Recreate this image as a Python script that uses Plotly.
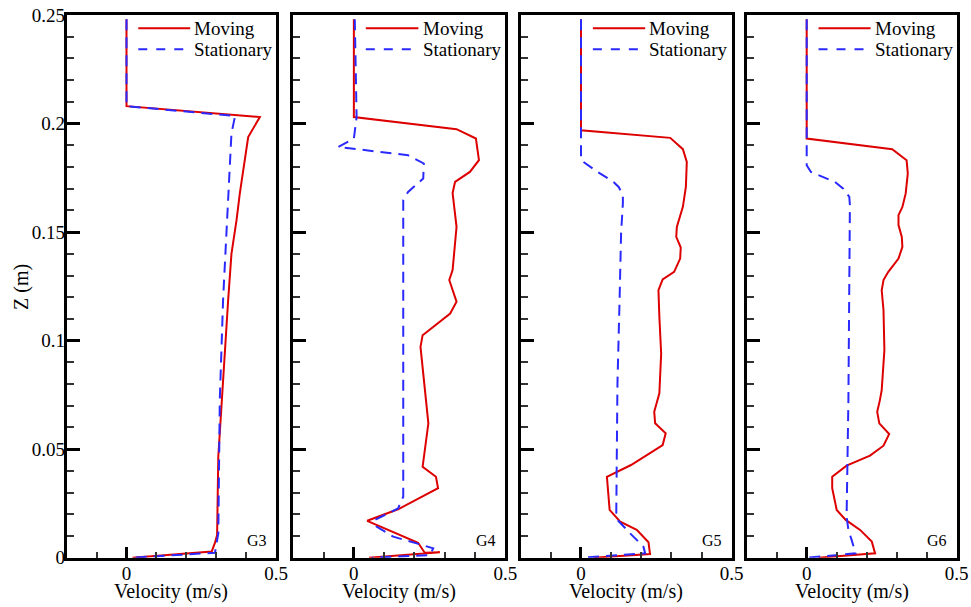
import plotly.graph_objects as go

# Vertical velocity profiles at four gauges (G3-G6): moving vs stationary case
gauges = ["G3", "G4", "G5", "G6"]

g3_moving_z = [0.248, 0.208, 0.203, 0.1938, 0.1678, 0.1555, 0.140, 0.1187, 0.0465, 0.0104, 0.0069, 0.0028, 0.0]
g3_moving_v = [0.0, 0.0, 0.446, 0.407, 0.379, 0.368, 0.351, 0.340, 0.307, 0.303, 0.296, 0.285, 0.02]
g3_stat_z = [0.248, 0.208, 0.2035, 0.1954, 0.1187, 0.0726, 0.0112, 0.0023, 0.0]
g3_stat_v = [0.0, 0.0, 0.363, 0.351, 0.323, 0.312, 0.307, 0.296, 0.02]

g4_moving_z = [0.248, 0.203, 0.1974, 0.1931, 0.1831, 0.1777, 0.1731, 0.168, 0.1524, 0.1325, 0.1279,
               0.1179, 0.1125, 0.1025, 0.0971, 0.0619, 0.0419, 0.0373, 0.032, 0.0223, 0.017, 0.0069,
               0.0023, 0.0025, 0.0]
g4_moving_v = [0.0, 0.0, 0.339, 0.403, 0.413, 0.383, 0.334, 0.326, 0.339, 0.326, 0.315,
               0.339, 0.318, 0.227, 0.220, 0.246, 0.227, 0.271, 0.278, 0.146, 0.044, 0.212,
               0.234, 0.284, 0.05]
g4_stat_z = [0.248, 0.203, 0.193, 0.1892, 0.1854, 0.1816, 0.1747, 0.1685, 0.1647, 0.0281, 0.0227,
             0.0174, 0.0143, 0.0097, 0.0066, 0.0043, 0.0012, 0.0]
g4_stat_v = [0.003, 0.009, 0.0, -0.052, 0.179, 0.231, 0.229, 0.179, 0.163, 0.163, 0.146,
             0.069, 0.075, 0.130, 0.207, 0.262, 0.251, 0.06]

g5_moving_z = [0.248, 0.1969, 0.1934, 0.1882, 0.1823, 0.1708, 0.1616, 0.157, 0.1524, 0.1478, 0.1429,
               0.1378, 0.1317, 0.1282, 0.1232, 0.111, 0.0941, 0.0757, 0.0672, 0.0619, 0.0573, 0.0519,
               0.0427, 0.0373, 0.022, 0.0166, 0.0128, 0.0071, 0.0017, 0.0]
g5_moving_v = [0.0, 0.0, 0.296, 0.338, 0.351, 0.348, 0.338, 0.329, 0.318, 0.316, 0.331,
               0.329, 0.309, 0.271, 0.257, 0.26, 0.266, 0.26, 0.243, 0.246, 0.281, 0.271,
               0.166, 0.086, 0.095, 0.130, 0.185, 0.224, 0.229, 0.042]
g5_stat_z = [0.248, 0.1831, 0.1777, 0.1731, 0.1708, 0.167, 0.1632, 0.1494, 0.1187, 0.0803, 0.0189,
             0.0174, 0.0112, 0.0051, 0.002, 0.0]
g5_stat_v = [0.0, 0.0, 0.055, 0.108, 0.125, 0.139, 0.139, 0.133, 0.128, 0.121, 0.117,
             0.121, 0.163, 0.207, 0.213, 0.0]

g6_moving_z = [0.248, 0.1931, 0.1882, 0.1831, 0.177, 0.1678, 0.1616, 0.1578, 0.1532, 0.1478, 0.1432,
               0.1378, 0.1317, 0.1279, 0.1232, 0.114, 0.0956, 0.0772, 0.0726, 0.0672, 0.0619, 0.057,
               0.0516, 0.047, 0.0424, 0.0373, 0.032, 0.022, 0.0174, 0.0128, 0.0074, 0.002, 0.0]
g6_moving_v = [0.0, 0.0, 0.285, 0.333, 0.337, 0.33, 0.319, 0.306, 0.306, 0.317, 0.319,
               0.306, 0.272, 0.256, 0.25, 0.256, 0.259, 0.25, 0.244, 0.235, 0.242, 0.275,
               0.256, 0.211, 0.133, 0.085, 0.085, 0.1, 0.13, 0.178, 0.217, 0.228, 0.039]
g6_stat_z = [0.248, 0.1808, 0.1777, 0.1731, 0.17, 0.1662, 0.1624, 0.0726, 0.0189, 0.0128, 0.0081,
             0.002, 0.0]
g6_stat_v = [0.0, 0.0, 0.014, 0.094, 0.122, 0.142, 0.144, 0.139, 0.133, 0.139, 0.15,
             0.163, 0.0]

moving = [(g3_moving_v, g3_moving_z), (g4_moving_v, g4_moving_z),
          (g5_moving_v, g5_moving_z), (g6_moving_v, g6_moving_z)]
stationary = [(g3_stat_v, g3_stat_z), (g4_stat_v, g4_stat_z),
              (g5_stat_v, g5_stat_z), (g6_stat_v, g6_stat_z)]

series_names = ["Moving", "Stationary"]
x_title = "Velocity (m/s)"
y_title = "Z (m)"
x_range = [-0.2, 0.5]
y_range = [0.0, 0.25]

RED = "#dd0000"
BLUE = "#2a2aff"
FAMILY = "Liberation Serif"
W, H = 971, 607


def serif(size):
    return dict(family=FAMILY, size=size, color="black")


# panel placement in pixels
panel_left = [66.7, 293.3, 520.7, 746.7]
panel_right = [276.0, 505.3, 731.7, 956.7]
plot_top, plot_bottom = 15.0, 557.7
y_dom = [(H - plot_bottom) / H, (H - plot_top) / H]

fig = go.Figure()
layout = dict(
    width=W, height=H,
    margin=dict(l=0, r=0, t=0, b=0),
    paper_bgcolor="white", plot_bgcolor="white",
    font=serif(19),
    showlegend=False,
)

shapes = []
annotations = []

for i in range(4):
    n = "" if i == 0 else str(i + 1)
    xa, ya = "x" + n, "y" + n
    mv, mz = moving[i]
    sv, sz = stationary[i]
    fig.add_trace(go.Scatter(x=mv, y=mz, mode="lines", name=series_names[0],
                             line=dict(color=RED, width=2), xaxis=xa, yaxis=ya))
    fig.add_trace(go.Scatter(x=sv, y=sz, mode="lines", name=series_names[1],
                             line=dict(color=BLUE, width=2, dash="11px,7px"), xaxis=xa, yaxis=ya))

    layout["xaxis" + n] = dict(
        domain=[panel_left[i] / W, panel_right[i] / W], range=x_range, anchor=ya,
        showgrid=False, zeroline=False, showline=True, linewidth=3, linecolor="black", mirror=True,
        ticks="inside", ticklen=11, tickwidth=3, tickcolor="black",
        tick0=0, dtick=0.5, tickfont=serif(19), ticklabelstandoff=-4,
        minor=dict(ticks="inside", ticklen=6, tickwidth=1.5, tickcolor="#333333", dtick=0.1, showgrid=False),
        automargin=False,
    )
    layout["yaxis" + n] = dict(
        domain=y_dom, range=y_range, anchor=xa,
        showgrid=False, zeroline=False, showline=True, linewidth=3, linecolor="black", mirror=True,
        ticks="inside", ticklen=13, tickwidth=3, tickcolor="black",
        tick0=0, dtick=0.05, tickfont=serif(19), showticklabels=(i == 0), ticklabelstandoff=-5,
        minor=dict(ticks="inside", ticklen=7, tickwidth=1.5, tickcolor="#333333", dtick=0.01, showgrid=False),
        automargin=False,
    )

    xd, yd = "x" + n + " domain", "y" + n + " domain"
    # x-axis title under each panel
    annotations.append(dict(xref=xd, yref="paper", x=0.5, y=(H - 591) / H, xanchor="center",
                            yanchor="middle", text=x_title, showarrow=False, font=serif(20)))
    # legend drawn inside each panel
    for k, (col, dash, yy) in enumerate([(RED, "solid", 0.9755), (BLUE, "dash", 0.9368)]):
        shapes.append(dict(type="line", xref=xd, yref=yd, x0=0.342, x1=0.59, y0=yy, y1=yy,
                           line=dict(color=col, width=2, dash=dash)))
        annotations.append(dict(xref=xd, yref=yd, x=0.600, y=yy, xanchor="left", yanchor="middle",
                                text=series_names[k], showarrow=False, font=serif(19)))
    # gauge label
    annotations.append(dict(xref=xd, yref=yd, x=0.965, y=0.031, xanchor="right", yanchor="middle",
                            text=gauges[i], showarrow=False, font=serif(16)))

annotations.append(dict(xref="paper", yref="paper", x=21 / W, y=(H - 287) / H, xanchor="center",
                        yanchor="middle", text=y_title, textangle=-90, showarrow=False, font=serif(20)))

layout["shapes"] = shapes
layout["annotations"] = annotations
fig.update_layout(**layout)
fig.write_html("out.html")
